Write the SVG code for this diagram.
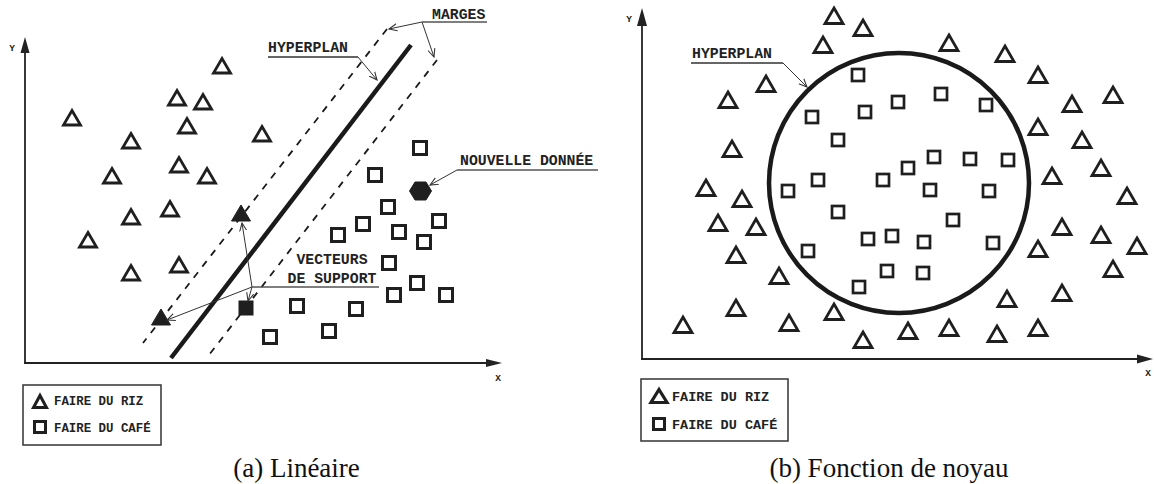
<svg xmlns="http://www.w3.org/2000/svg" xmlns:xlink="http://www.w3.org/1999/xlink" width="1154" height="484" viewBox="0 0 1154 484">
<style>
.ax{stroke:#222;stroke-width:1.8;fill:none}
.axh{fill:#222;stroke:none}
.lbl{font-family:"Liberation Mono","Courier New",monospace;font-weight:bold;fill:#222}
.ax-l{font-size:9.5px}
.big{font-size:14.8px}
.lead{stroke:#333;stroke-width:1;fill:none}
.ul{stroke:#555;stroke-width:1.3;fill:none}
.tri{fill:none;stroke:#1f1f1f;stroke-width:2.8;stroke-linejoin:miter}
.sq{fill:none;stroke:#1f1f1f;stroke-width:3}
.sqr{fill:none;stroke:#1f1f1f;stroke-width:2.7}
.solid{fill:#1f1f1f;stroke:#1f1f1f;stroke-width:1}
.box{fill:none;stroke:#333;stroke-width:1.5}
.cap{font-family:"Liberation Serif","Times New Roman",serif;font-size:27px;fill:#111}
</style>
<defs>
<path id="t" d="M0,-6.5 L8.5,8 L-8.5,8 Z"/>
<path id="tr" d="M0,-7 L9,8.5 L-9,8.5 Z"/>
<rect id="s" x="-6.5" y="-6.5" width="13" height="13"/>
<rect id="sr" x="-6" y="-6" width="12" height="12"/>
<marker id="oa" viewBox="0 0 10 10" refX="9" refY="5" markerWidth="9" markerHeight="9" markerUnits="userSpaceOnUse" orient="auto">
<path d="M0,1 L9,5 L0,9" fill="none" stroke="#333" stroke-width="1.2"/>
</marker>
</defs>
<rect width="1154" height="484" fill="#fff"/>

<!-- ===== Left panel: Linéaire ===== -->
<g id="left-axes">
<line class="ax" x1="25" y1="363" x2="25" y2="50"/>
<polygon class="axh" points="25,37 20.5,53 29.5,53"/>
<line class="ax" x1="24" y1="363" x2="488" y2="363"/>
<polygon class="axh" points="502,363 486,359 486,367"/>
<text class="lbl ax-l" x="12" y="51" text-anchor="middle">Y</text>
<text class="lbl ax-l" x="498" y="381" text-anchor="middle">X</text>
</g>

<g id="left-lines">
<line x1="411" y1="45" x2="171" y2="358" stroke="#1a1a1a" stroke-width="4.5"/>
<line x1="387" y1="29" x2="143" y2="343" stroke="#1a1a1a" stroke-width="1.8" stroke-dasharray="7 7"/>
<line x1="437" y1="60" x2="209" y2="355" stroke="#1a1a1a" stroke-width="1.8" stroke-dasharray="7 7"/>
</g>

<g id="left-riz">
<use id="lr1" href="#t" class="tri" x="72" y="117"/>
<use id="lr2" href="#t" class="tri" x="131" y="140"/>
<use id="lr3" href="#t" class="tri" x="112" y="175"/>
<use id="lr4" href="#t" class="tri" x="177" y="97"/>
<use id="lr5" href="#t" class="tri" x="203" y="101"/>
<use id="lr6" href="#t" class="tri" x="187" y="125"/>
<use id="lr7" href="#t" class="tri" x="179" y="164"/>
<use id="lr8" href="#t" class="tri" x="207" y="175"/>
<use id="lr9" href="#t" class="tri" x="222" y="65"/>
<use id="lr10" href="#t" class="tri" x="262" y="133"/>
<use id="lr11" href="#t" class="tri" x="131" y="216"/>
<use id="lr12" href="#t" class="tri" x="170" y="208"/>
<use id="lr13" href="#t" class="tri" x="88" y="239"/>
<use id="lr14" href="#t" class="tri" x="131" y="272"/>
<use id="lr15" href="#t" class="tri" x="179" y="264"/>
</g>

<g id="left-cafe">
<use id="lc1" href="#s" class="sq" x="420" y="148"/>
<use id="lc2" href="#s" class="sq" x="375" y="175"/>
<use id="lc3" href="#s" class="sq" x="388" y="207"/>
<use id="lc4" href="#s" class="sq" x="363" y="224"/>
<use id="lc5" href="#s" class="sq" x="338" y="235"/>
<use id="lc6" href="#s" class="sq" x="399" y="232"/>
<use id="lc7" href="#s" class="sq" x="439" y="221"/>
<use id="lc8" href="#s" class="sq" x="424" y="242"/>
<use id="lc9" href="#s" class="sq" x="389" y="263"/>
<use id="lc10" href="#s" class="sq" x="417" y="283"/>
<use id="lc11" href="#s" class="sq" x="394" y="295"/>
<use id="lc12" href="#s" class="sq" x="446" y="295"/>
<use id="lc13" href="#s" class="sq" x="297" y="306"/>
<use id="lc14" href="#s" class="sq" x="356" y="309"/>
<use id="lc15" href="#s" class="sq" x="329" y="331"/>
<use id="lc16" href="#s" class="sq" x="270" y="337"/>
</g>

<g id="support-vectors">
<path id="sv1" class="solid" d="M241,205 L250.5,221 L231.5,221 Z"/>
<path id="sv2" class="solid" d="M161,309 L170.5,325 L151.5,325 Z"/>
<rect id="sv3" class="solid" x="239" y="301" width="14" height="14"/>
</g>

<g id="new-point">
<polygon class="solid" points="409.5,191 415,182 426,182 431.5,191 426,200 415,200"/>
</g>

<g id="connectors">
<polyline class="lead" points="268,57 358,57 377,80" marker-end="url(#oa)"/>
<line class="lead" x1="422" y1="22" x2="389" y2="29" marker-end="url(#oa)"/>
<line class="lead" x1="422" y1="22" x2="434" y2="57" marker-end="url(#oa)"/>
<line class="lead" x1="457" y1="170" x2="430" y2="185" marker-end="url(#oa)"/>
<line class="lead" x1="252" y1="287" x2="242" y2="223" marker-end="url(#oa)"/>
<line class="lead" x1="252" y1="287" x2="248" y2="301" marker-end="url(#oa)"/>
<line class="lead" x1="252" y1="287" x2="167" y2="320" marker-end="url(#oa)"/>
<polyline class="lead" points="691,63 783,63 807,87" marker-end="url(#oa)"/>
</g>

<g id="label-hyperplan-a">
<text class="lbl big" x="268" y="52">HYPERPLAN</text>
<line class="ul" x1="268" y1="57" x2="358" y2="57"/>
</g>
<g id="label-marges">
<text class="lbl big" x="432" y="19">MARGES</text>
<line class="ul" x1="422" y1="22" x2="487" y2="22"/>
</g>
<g id="label-nouvelle">
<text class="lbl big" x="460" y="165">NOUVELLE DONNÉE</text>
<line class="ul" x1="457" y1="170" x2="598" y2="170"/>
</g>
<g id="label-vecteurs">
<text class="lbl big" x="332" y="264" text-anchor="middle">VECTEURS</text>
<text class="lbl big" x="332" y="283" text-anchor="middle">DE SUPPORT</text>
<line class="ul" x1="252" y1="287" x2="379" y2="287"/>
</g>

<g id="legend-a">
<rect class="box" x="23" y="385" width="138" height="60"/>
<path class="tri" d="M40,395.5 L46.5,407.5 L33.5,407.5 Z" style="stroke-width:3"/>
<rect class="sq" x="34.5" y="421.5" width="11" height="11"/>
<text class="lbl" x="54" y="405" font-size="12.4">FAIRE DU RIZ</text>
<text class="lbl" x="54" y="432" font-size="12.4">FAIRE DU CAFÉ</text>
</g>
<text id="caption-a" class="cap" x="296.5" y="477" text-anchor="middle">(a) Linéaire</text>

<!-- ===== Right panel: Fonction de noyau ===== -->
<g id="right-axes">
<line class="ax" x1="642" y1="359" x2="642" y2="24"/>
<polygon class="axh" points="642,8 637,26 647,26"/>
<line class="ax" x1="641" y1="359" x2="1138" y2="359"/>
<polygon class="axh" points="1153,359 1137,354.5 1137,363.5"/>
<text class="lbl ax-l" x="629" y="22" text-anchor="middle">Y</text>
<text class="lbl ax-l" x="1148" y="376" text-anchor="middle">X</text>
</g>

<g id="kernel-boundary">
<circle cx="899" cy="183" r="130" fill="none" stroke="#1a1a1a" stroke-width="4.5"/>
</g>

<g id="right-riz">
<use id="rr1" href="#tr" class="tri" x="834" y="15"/>
<use id="rr2" href="#tr" class="tri" x="863" y="27"/>
<use id="rr3" href="#tr" class="tri" x="823" y="44"/>
<use id="rr4" href="#tr" class="tri" x="766" y="83"/>
<use id="rr5" href="#tr" class="tri" x="728" y="99"/>
<use id="rr6" href="#tr" class="tri" x="732" y="148"/>
<use id="rr7" href="#tr" class="tri" x="706" y="187"/>
<use id="rr8" href="#tr" class="tri" x="742" y="198"/>
<use id="rr9" href="#tr" class="tri" x="718" y="222"/>
<use id="rr10" href="#tr" class="tri" x="756" y="226"/>
<use id="rr11" href="#tr" class="tri" x="736" y="254"/>
<use id="rr12" href="#tr" class="tri" x="779" y="275"/>
<use id="rr13" href="#tr" class="tri" x="736" y="307"/>
<use id="rr14" href="#tr" class="tri" x="683" y="324"/>
<use id="rr15" href="#tr" class="tri" x="789" y="322"/>
<use id="rr16" href="#tr" class="tri" x="834" y="311"/>
<use id="rr17" href="#tr" class="tri" x="863" y="339"/>
<use id="rr18" href="#tr" class="tri" x="908" y="330"/>
<use id="rr19" href="#tr" class="tri" x="949" y="327"/>
<use id="rr20" href="#tr" class="tri" x="997" y="333"/>
<use id="rr21" href="#tr" class="tri" x="1038" y="327"/>
<use id="rr22" href="#tr" class="tri" x="1007" y="298"/>
<use id="rr23" href="#tr" class="tri" x="1062" y="292"/>
<use id="rr24" href="#tr" class="tri" x="1113" y="268"/>
<use id="rr25" href="#tr" class="tri" x="1038" y="248"/>
<use id="rr26" href="#tr" class="tri" x="1062" y="226"/>
<use id="rr27" href="#tr" class="tri" x="1101" y="234"/>
<use id="rr28" href="#tr" class="tri" x="1137" y="245"/>
<use id="rr29" href="#tr" class="tri" x="1127" y="195"/>
<use id="rr30" href="#tr" class="tri" x="1052" y="175"/>
<use id="rr31" href="#tr" class="tri" x="1101" y="167"/>
<use id="rr32" href="#tr" class="tri" x="1082" y="139"/>
<use id="rr33" href="#tr" class="tri" x="1038" y="126"/>
<use id="rr34" href="#tr" class="tri" x="1072" y="103"/>
<use id="rr35" href="#tr" class="tri" x="1113" y="94"/>
<use id="rr36" href="#tr" class="tri" x="1038" y="74"/>
<use id="rr37" href="#tr" class="tri" x="1005" y="53"/>
<use id="rr38" href="#tr" class="tri" x="949" y="42"/>
</g>

<g id="right-cafe">
<use id="rc1" href="#sr" class="sqr" x="858" y="75"/>
<use id="rc2" href="#sr" class="sqr" x="812" y="117"/>
<use id="rc3" href="#sr" class="sqr" x="865" y="112"/>
<use id="rc4" href="#sr" class="sqr" x="898" y="102"/>
<use id="rc5" href="#sr" class="sqr" x="941" y="94"/>
<use id="rc6" href="#sr" class="sqr" x="986" y="105"/>
<use id="rc7" href="#sr" class="sqr" x="838" y="140"/>
<use id="rc8" href="#sr" class="sqr" x="818" y="180"/>
<use id="rc9" href="#sr" class="sqr" x="788" y="191"/>
<use id="rc10" href="#sr" class="sqr" x="883" y="180"/>
<use id="rc11" href="#sr" class="sqr" x="908" y="168"/>
<use id="rc12" href="#sr" class="sqr" x="934" y="157"/>
<use id="rc13" href="#sr" class="sqr" x="970" y="159"/>
<use id="rc14" href="#sr" class="sqr" x="1008" y="160"/>
<use id="rc15" href="#sr" class="sqr" x="930" y="190"/>
<use id="rc16" href="#sr" class="sqr" x="989" y="191"/>
<use id="rc17" href="#sr" class="sqr" x="838" y="212"/>
<use id="rc18" href="#sr" class="sqr" x="808" y="251"/>
<use id="rc19" href="#sr" class="sqr" x="868" y="239"/>
<use id="rc20" href="#sr" class="sqr" x="892" y="236"/>
<use id="rc21" href="#sr" class="sqr" x="924" y="242"/>
<use id="rc22" href="#sr" class="sqr" x="953" y="220"/>
<use id="rc23" href="#sr" class="sqr" x="993" y="243"/>
<use id="rc24" href="#sr" class="sqr" x="859" y="287"/>
<use id="rc25" href="#sr" class="sqr" x="887" y="271"/>
<use id="rc26" href="#sr" class="sqr" x="923" y="273"/>
</g>

<g id="label-hyperplan-b">
<text class="lbl big" x="692" y="58">HYPERPLAN</text>
<line class="ul" x1="691" y1="63" x2="783" y2="63"/>
</g>

<g id="legend-b">
<rect class="box" x="641" y="379" width="147" height="62"/>
<path class="tri" d="M659,389.5 L667,402.5 L651,402.5 Z" style="stroke-width:3.2"/>
<rect class="sq" x="653.5" y="418.5" width="11" height="11"/>
<text class="lbl" x="672" y="400.5" font-size="13.5">FAIRE DU RIZ</text>
<text class="lbl" x="672" y="428.5" font-size="13.5">FAIRE DU CAFÉ</text>
</g>
<text id="caption-b" class="cap" x="889" y="477" text-anchor="middle">(b) Fonction de noyau</text>
</svg>
